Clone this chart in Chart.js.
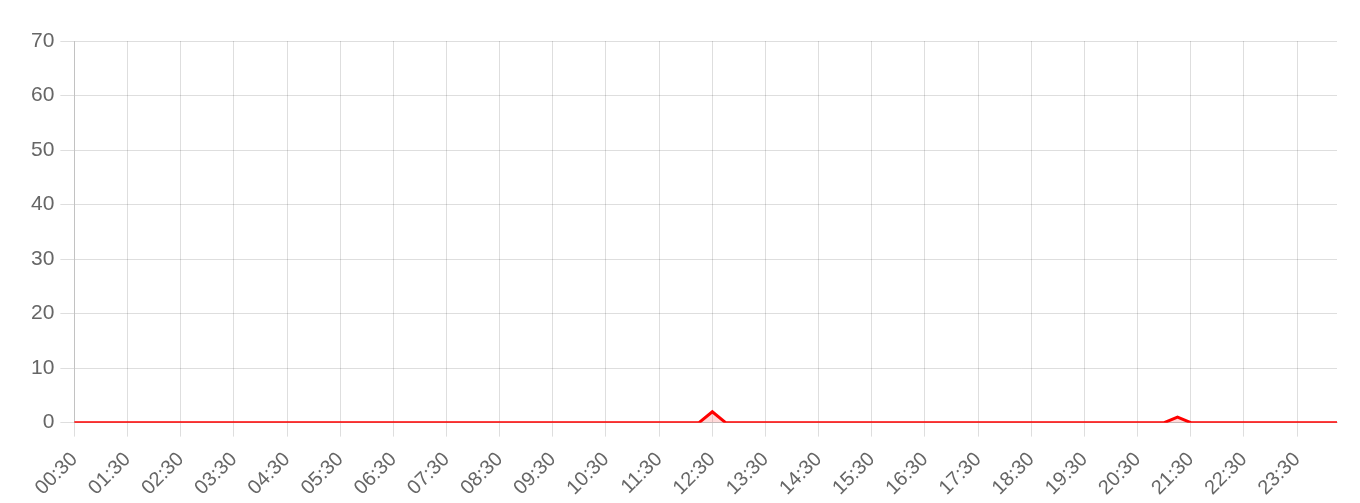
<!DOCTYPE html>
<html>
<head>
<meta charset="utf-8">
<script src="https://cdn.jsdelivr.net/npm/chart.js@4/dist/chart.umd.min.js"></script>
<style>
html,body{margin:0;padding:0;background:#fff;}
#wrap{width:1360px;height:503px;position:relative;}
</style>
</head>
<body>
<div id="wrap"><canvas id="c"></canvas></div>
<script>
const timeLabels = [
"00:30","00:45","01:00","01:15","01:30","01:45","02:00","02:15",
"02:30","02:45","03:00","03:15","03:30","03:45","04:00","04:15",
"04:30","04:45","05:00","05:15","05:30","05:45","06:00","06:15",
"06:30","06:45","07:00","07:15","07:30","07:45","08:00","08:15",
"08:30","08:45","09:00","09:15","09:30","09:45","10:00","10:15",
"10:30","10:45","11:00","11:15","11:30","11:45","12:00","12:15",
"12:30","12:45","13:00","13:15","13:30","13:45","14:00","14:15",
"14:30","14:45","15:00","15:15","15:30","15:45","16:00","16:15",
"16:30","16:45","17:00","17:15","17:30","17:45","18:00","18:15",
"18:30","18:45","19:00","19:15","19:30","19:45","20:00","20:15",
"20:30","20:45","21:00","21:15","21:30","21:45","22:00","22:15",
"22:30","22:45","23:00","23:15","23:30","23:45","00:00","00:15"
];
const seriesValues = [
0,0,0,0,0,0,0,0,
0,0,0,0,0,0,0,0,
0,0,0,0,0,0,0,0,
0,0,0,0,0,0,0,0,
0,0,0,0,0,0,0,0,
0,0,0,0,0,0,0,0,
2,0,0,0,0,0,0,0,
0,0,0,0,0,0,0,0,
0,0,0,0,0,0,0,0,
0,0,0,0,0,0,0,0,
0,0,0,1,0,0,0,0,
0,0,0,0,0,0,0,0
];
const shownTicks = ["00:30","01:30","02:30","03:30","04:30","05:30","06:30","07:30","08:30","09:30","10:30","11:30","12:30","13:30","14:30","15:30","16:30","17:30","18:30","19:30","20:30","21:30","22:30","23:30"];
const yMin = 0, yMax = 70, yStep = 10;

new Chart(document.getElementById('c'), {
  type: 'line',
  data: {
    labels: timeLabels,
    datasets: [{
      data: seriesValues,
      borderColor: 'rgb(255,0,0)',
      backgroundColor: 'rgba(255,0,0,0.15)',
      borderWidth: 3,
      fill: true,
      tension: 0,
      pointRadius: 0,
      pointHoverRadius: 0
    }]
  },
  options: {
    responsive: true,
    maintainAspectRatio: false,
    animation: false,
    layout: { padding: { top: 41, right: 23, left: 25, bottom: -8 } },
    plugins: { legend: { display: false }, tooltip: { enabled: false } },
    scales: {
      x: {
        grid: { color: 'rgba(0,0,0,0.13)', tickLength: 14 },
        border: { color: 'rgba(0,0,0,0.13)' },
        ticks: {
          autoSkip: false,
          maxRotation: 45,
          minRotation: 45,
          padding: 11,
          color: '#666',
          font: { family: 'Liberation Sans, Arial, sans-serif', size: 20 },
          callback: function(v, i) {
            const l = timeLabels[i];
            return shownTicks.includes(l) && i < 93 ? l : null;
          }
        }
      },
      y: {
        min: yMin, max: yMax,
        grid: { color: 'rgba(0,0,0,0.13)', tickLength: 14 },
        border: { color: 'rgba(0,0,0,0.13)' },
        ticks: {
          stepSize: yStep,
          color: '#666',
          padding: 6,
          font: { family: 'Liberation Sans, Arial, sans-serif', size: 21 }
        }
      }
    }
  }
});
</script>
</body>
</html>
